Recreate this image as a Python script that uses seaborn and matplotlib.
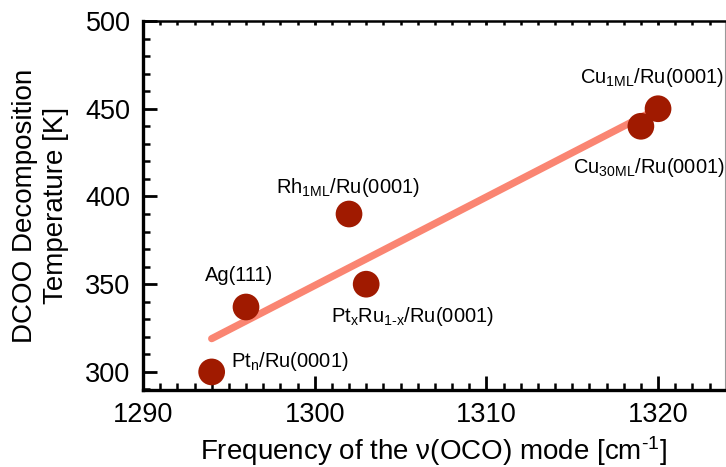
import matplotlib
matplotlib.use("Agg")
import matplotlib.pyplot as plt
from matplotlib.ticker import MultipleLocator
import seaborn as sns
import pandas as pd

# Surface systems: vibrational frequency and DCOO decomposition temperature
systems = [
    r"Cu$_{\mathrm{1ML}}$/Ru(0001)",
    r"Cu$_{\mathrm{30ML}}$/Ru(0001)",
    r"Rh$_{\mathrm{1ML}}$/Ru(0001)",
    "Ag(111)",
    r"Pt$_{\mathrm{x}}$Ru$_{\mathrm{1\text{-}x}}$/Ru(0001)",
    r"Pt$_{\mathrm{n}}$/Ru(0001)",
]
frequency = [1320, 1319, 1302, 1296, 1303, 1294]
temperature = [450, 440, 390, 337, 350, 300]

# label offsets (points) relative to each marker
label_dx = [-56, -49, -52.6, -29.5, -25.2, 13.7]
label_dy = [18.7, -33.8, 15.1, 18.7, -27.4, 3.6]

df = pd.DataFrame({"freq": frequency, "temp": temperature, "system": systems})

sns.set_style("ticks")
plt.rcParams["font.family"] = ["Liberation Sans", "DejaVu Sans"]
plt.rcParams["mathtext.fontset"] = "custom"
plt.rcParams["mathtext.rm"] = "Liberation Sans"
plt.rcParams["mathtext.it"] = "Liberation Sans:italic"
plt.rcParams["mathtext.bf"] = "Liberation Sans:bold"
plt.rcParams["text.color"] = "black"
plt.rcParams["axes.labelcolor"] = "black"
plt.rcParams["xtick.color"] = "black"
plt.rcParams["ytick.color"] = "black"
plt.rcParams["xtick.labelcolor"] = "black"
plt.rcParams["ytick.labelcolor"] = "black"

fig = plt.figure(figsize=(7.26, 4.67), dpi=100)
ax = fig.add_axes([143 / 726, 1 - 390 / 467, (725 - 143) / 726, (390 - 21) / 467])

sns.regplot(data=df, x="freq", y="temp", ax=ax, scatter=False, ci=None,
            truncate=True,
            line_kws=dict(color="#FA8572", lw=5.2, solid_capstyle="round", zorder=2))
sns.scatterplot(data=df, x="freq", y="temp", ax=ax, s=370, color="#A01A00",
                edgecolor="none", linewidth=0, zorder=3, legend=False)

for name, x, y, dx, dy in zip(systems, frequency, temperature, label_dx, label_dy):
    ax.annotate(name, xy=(x, y), xytext=(dx, dy), textcoords="offset points",
                ha="left", va="baseline", fontsize=14.5, color="black", zorder=4)

ax.set_xlim(1290, 1323.9)
ax.set_ylim(289.7, 500)
ax.xaxis.set_major_locator(MultipleLocator(10))
ax.xaxis.set_minor_locator(MultipleLocator(1))
ax.yaxis.set_major_locator(MultipleLocator(50))
ax.yaxis.set_minor_locator(MultipleLocator(10))

ax.tick_params(which="both", direction="in", labelsize=19.5, colors="black",
               labelcolor="black")
ax.tick_params(which="major", length=10, width=2.0, pad=9)
ax.tick_params(which="minor", length=5, width=1.8)
ax.tick_params(axis="x", which="both", top=True)
ax.tick_params(axis="y", which="both", left=True, right=False)

for side in ["left", "bottom"]:
    ax.spines[side].set_linewidth(2.4)
    ax.spines[side].set_color("black")
ax.spines["top"].set_visible(True)
ax.spines["top"].set_linewidth(1.8)
ax.spines["top"].set_color("black")
ax.spines["right"].set_visible(True)
ax.spines["right"].set_linewidth(0.8)
ax.spines["right"].set_color("#999999")

# short ticks along the top edge
for tick in ax.xaxis.get_major_ticks() + ax.xaxis.get_minor_ticks():
    tick.tick2line.set_markersize(3)

ax.set_xlabel(r"Frequency of the ν(OCO) mode [cm$^{\text{-1}}$]", fontsize=20,
              labelpad=4, color="black")
ax.set_ylabel("DCOO Decomposition\nTemperature [K]", fontsize=20, labelpad=12,
              linespacing=1.25, color="black")

fig.savefig("out.png", dpi=100)
